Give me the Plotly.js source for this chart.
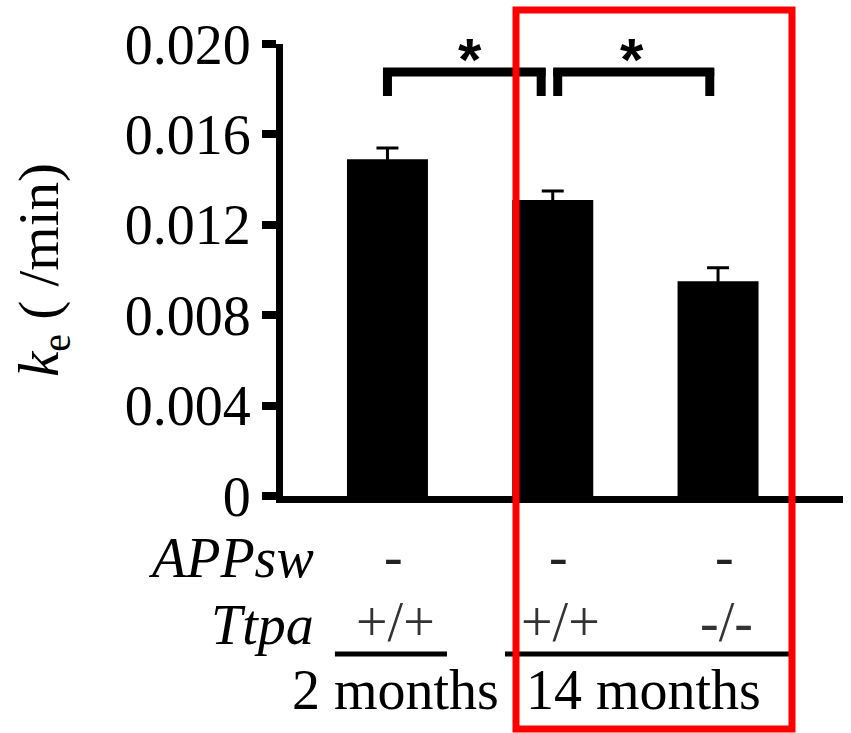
<!DOCTYPE html>
<html>
<head>
<meta charset="utf-8">
<script src="https://cdn.plot.ly/plotly-3.0.1.min.js"></script>
<style>
  html, body { margin: 0; padding: 0; background: #ffffff; }
  #chart { width: 851px; height: 733px; }
</style>
</head>
<body>
<div id="chart"></div>
<script>
// ---- data ----
const categoryKeys = ['2mo_WT', '14mo_WT', '14mo_KO'];
const appswLabels = ['-', '-', '-'];
const ttpaLabels = ['+/+', '+/+', '-/-'];
const keValues = [0.0149, 0.0131, 0.0095];
const keErrors = [0.0005, 0.0004, 0.0006];
const ageGroups = ['2 months', '14 months'];
const ageGroupCenters = [0.05, 1.55];
const yTickVals = [0, 0.004, 0.008, 0.012, 0.016, 0.020];
const yTickText = ['0', '0.004', '0.008', '0.012', '0.016', '0.020'];
const sigPairs = [[0, 1], [1, 2]];
const sigLabels = ['*', '*'];

// ---- layout geometry (pixels) ----
const W = 851, H = 733;
const M = { l: 283, r: 8, t: 44, b: 237 };
const plotW = W - M.l - M.r, plotH = H - M.t - M.b;
const px2paperX = p => (p - M.l) / plotW;
const px2paperY = p => (H - M.b - p) / plotH;

const serif = 'Liberation Serif, Times New Roman, serif';
const fontSize = 56;

const trace = {
  type: 'bar',
  x: categoryKeys,
  y: keValues,
  width: 0.49,
  marker: { color: '#000000', line: { width: 0 } },
  error_y: { type: 'data', array: keErrors, visible: true, color: '#000000', thickness: 3, width: 11 },
  hoverinfo: 'skip'
};

const annotations = [];
// row labels
annotations.push({ xref: 'paper', yref: 'paper', x: px2paperX(316), y: px2paperY(558), xanchor: 'right', yanchor: 'middle',
  text: '<i>APPsw</i>', showarrow: false, font: { family: serif, size: fontSize, color: '#000' } });
annotations.push({ xref: 'paper', yref: 'paper', x: px2paperX(316), y: px2paperY(625), xanchor: 'right', yanchor: 'middle',
  text: '<i>Ttpa</i>', showarrow: false, font: { family: serif, size: fontSize, color: '#000' } });
categoryKeys.forEach((c, i) => {
  annotations.push({ xref: 'x', yref: 'paper', x: i, xshift: 6, y: px2paperY(556), xanchor: 'center', yanchor: 'middle',
    text: appswLabels[i], showarrow: false, font: { family: serif, size: fontSize, color: '#222' } });
  annotations.push({ xref: 'x', yref: 'paper', x: i, xshift: 8, y: px2paperY(622), xanchor: 'center', yanchor: 'middle',
    text: ttpaLabels[i], showarrow: false, font: { family: serif, size: fontSize, color: '#333' } });
});
ageGroups.forEach((g, i) => {
  annotations.push({ xref: 'x', yref: 'paper', x: ageGroupCenters[i], y: px2paperY(690), xanchor: 'center', yanchor: 'middle',
    text: g, showarrow: false, font: { family: serif, size: fontSize, color: '#000' } });
});
// significance stars
sigPairs.forEach((p, i) => {
  annotations.push({ xref: 'x', yref: 'paper', x: (p[0] + p[1]) / 2 - 0.02 * i, y: px2paperY(59), xanchor: 'center', yanchor: 'middle',
    text: '<b>' + sigLabels[i] + '</b>', showarrow: false, font: { family: 'Liberation Sans, Arial, sans-serif', size: 60, color: '#000' } });
});

const shapes = [];
// brackets
const bracketX = [[0.0, 0.93], [1.03, 1.95]];
const yTop = px2paperY(72), yLeg = px2paperY(96);
bracketX.forEach(b => {
  shapes.push({ type: 'line', xref: 'x', yref: 'paper', x0: b[0], x1: b[0], y0: yLeg, y1: yTop + 0.008, line: { color: '#000', width: 9 } });
  shapes.push({ type: 'line', xref: 'x', yref: 'paper', x0: b[1], x1: b[1], y0: yLeg, y1: yTop + 0.008, line: { color: '#000', width: 9 } });
  shapes.push({ type: 'line', xref: 'x', yref: 'paper', x0: b[0] - 0.027, x1: b[1] + 0.027, y0: yTop, y1: yTop, line: { color: '#000', width: 9 } });
});
// group underlines
const underlineX = [[-0.318, 0.36], [0.711, 2.44]];
underlineX.forEach(u => {
  shapes.push({ type: 'line', xref: 'x', yref: 'paper', x0: u[0], x1: u[1], y0: px2paperY(654), y1: px2paperY(654), line: { color: '#000', width: 5 } });
});
// red highlight box
shapes.push({ type: 'rect', xref: 'paper', yref: 'paper', x0: px2paperX(516), x1: px2paperX(792), y0: px2paperY(729), y1: px2paperY(10),
  line: { color: '#ff0000', width: 7 }, fillcolor: 'rgba(0,0,0,0)', layer: 'above' });

const layout = {
  width: W, height: H,
  margin: M,
  paper_bgcolor: '#ffffff', plot_bgcolor: '#ffffff',
  showlegend: false,
  bargap: 0.5,
  xaxis: {
    type: 'category',
    range: [-0.632, 2.756],
    showline: true, linecolor: '#000', linewidth: 7,
    showticklabels: false, ticks: '', showgrid: false, zeroline: false, fixedrange: true
  },
  yaxis: {
    range: [0, 0.020],
    tickvals: yTickVals, ticktext: yTickText,
    ticks: 'outside', ticklen: 14, tickwidth: 8, tickcolor: '#000',
    showline: true, linecolor: '#000', linewidth: 7,
    showgrid: false, zeroline: false,
    tickfont: { family: serif, size: fontSize, color: '#000' },
    title: { text: '<i>k</i><sub>e</sub> ( /min)', font: { family: serif, size: 57, color: '#000' }, standoff: 50 },
    automargin: false, fixedrange: true
  },
  annotations: annotations,
  shapes: shapes
};

Plotly.newPlot('chart', [trace], layout, { displayModeBar: false, staticPlot: true });
</script>
</body>
</html>
